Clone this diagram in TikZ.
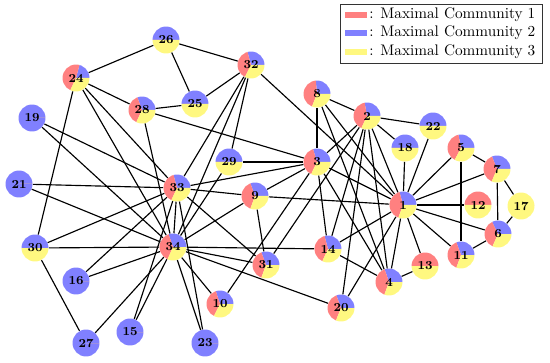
\documentclass[tikz,border=0pt]{standalone}
\usepackage{amsmath}

\colorlet{commA}{red!50}
\colorlet{commB}{blue!50}
\colorlet{commC}{yellow!50}

\tikzset{
  pienode/.style 2 args={circle,minimum size=0.62cm,inner sep=0pt,font=\footnotesize\bfseries,
    path picture={
      \fill[commB] (path picture bounding box.center) -- ++(0:1cm) arc[start angle=0,end angle=#1,radius=1cm] -- cycle;
      \fill[commA] (path picture bounding box.center) -- ++(#1:1cm) arc[start angle=#1,end angle=#2,radius=1cm] -- cycle;
      \fill[commC] (path picture bounding box.center) -- ++(#2:1cm) arc[start angle=#2,end angle=360,radius=1cm] -- cycle;
    }},
  edge/.style={line width=0.75pt},
}

\begin{document}
\begin{tikzpicture}[x=0.023cm,y=0.023cm]
  \useasboundingbox (0,0) rectangle (550,362);
  % nodos: numero / x / y (desde arriba) / fin azul / fin rojo
  \foreach \n/\x/\y/\a/\b in {
      1/403/205/105/250, 2/367/116/100/245, 3/317/162/107/244, 4/389/282/109/250,
      5/461/148/101/242, 6/498/234/116/246, 7/497/169/112/247, 8/317/94/95/248,
      9/255/196/110/250, 10/220/304/108/243, 11/461/255/110/250, 12/478/205/0/180,
      13/425/266/0/180, 14/328/249/105/245, 15/130/332/360/360, 16/76/281/360/360,
      17/521/206/0/0, 18/405/148/180/180, 19/32/118/360/360, 20/341/308/110/248,
      21/19/184/360/360, 22/433/126/180/180, 23/205/343/360/360, 24/76/78/75/245,
      25/195/104/180/180, 26/166/40/180/180, 27/86/343/360/360, 28/142/110/110/245,
      29/229/162/180/180, 30/35/248/180/180, 31/266/265/110/250, 32/251/65/105/243,
      33/177/188/105/245, 34/173/247/109/246}
    \node[pienode={\a}{\b}] (n\n) at (\x,362-\y) {\n};
  % aristas
  \foreach \u/\v in {1/2,1/3,1/4,1/5,1/6,1/7,1/8,1/9,1/11,1/12,1/13,1/14,1/18,1/20,1/22,1/32,
      2/3,2/4,2/8,2/14,2/18,2/20,2/22,2/31,
      3/4,3/8,3/9,3/10,3/14,3/28,3/29,3/33,
      4/8,4/13,4/14,5/7,5/11,6/7,6/11,6/17,7/17,
      9/31,9/33,9/34,10/34,14/34,15/33,15/34,16/33,16/34,19/33,19/34,
      20/34,21/33,21/34,23/33,23/34,24/26,24/28,24/30,24/33,24/34,
      25/26,25/28,25/32,26/32,27/30,27/34,28/34,29/32,29/34,
      30/33,30/34,31/33,31/34,32/33,32/34,33/34}
    \draw[edge] (n\u) -- (n\v);
  % leyenda
  \draw[black!80,line width=0.6pt] (340,358) rectangle (542,299);
  \foreach \c/\k/\y in {commA/1/15,commB/2/33,commC/3/52}{
    \fill[\c] (345,362-\y-3) rectangle (367,362-\y+3);
    \node[anchor=west,inner sep=0pt] (leg\k) at (369,362-\y) {: Maximal Community \k};
  }
\end{tikzpicture}
\end{document}
